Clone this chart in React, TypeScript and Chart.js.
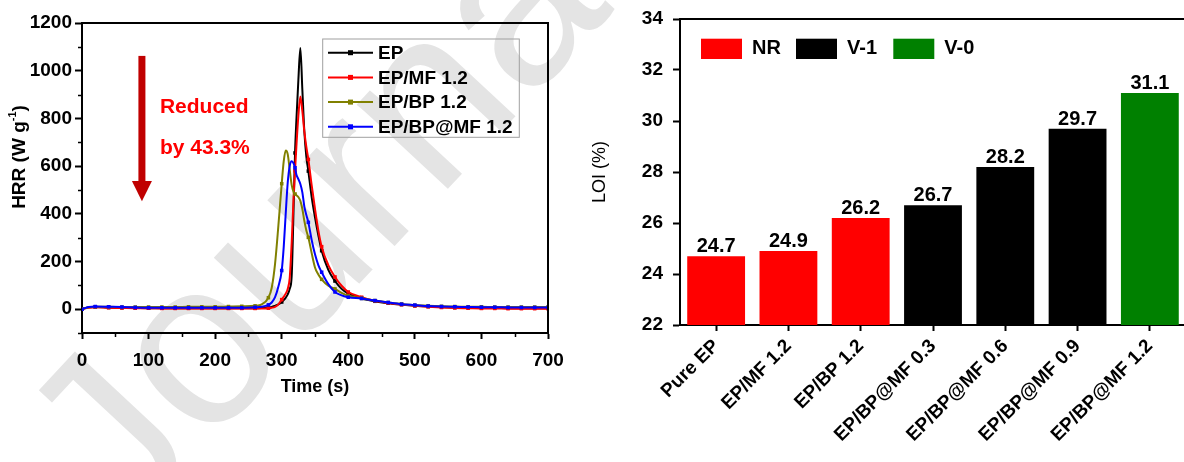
import React, { useEffect, useRef } from 'react';
import { Chart, registerables } from 'chart.js';

Chart.register(...registerables);

const FONT = '"Liberation Sans", Arial, Helvetica, sans-serif';

// ---------- HRR (left panel) ----------
const timeS = [0, 10, 20, 40, 60, 80, 100, 120, 140, 160, 180, 200, 220, 240, 260, 270, 280, 285, 290, 295, 300, 303, 306, 309, 312, 315, 318, 320, 322, 325, 328, 331, 334, 337, 340, 345, 350, 355, 360, 370, 380, 390, 400, 420, 440, 460, 480, 500, 520, 540, 560, 580, 600, 620, 640, 660, 680, 700];
const hrrEP = [0, 8, 9, 7, 6, 5, 4, 4, 4, 4, 4, 4, 4, 4, 4, 5, 7, 9, 14, 20, 30, 38, 48, 62, 85, 140, 440, 655, 790, 960, 1095, 920, 745, 640, 579, 470, 385, 310, 245, 165, 118, 85, 65, 45, 33, 25, 19, 14, 11, 9, 7, 6, 5, 5, 4, 4, 4, 4];
const hrrEPMF = [0, 6, 8, 6, 5, 4, 4, 3, 3, 3, 3, 3, 3, 3, 3, 3, 4, 6, 10, 20, 40, 52, 65, 85, 130, 280, 480, 580, 680, 810, 892, 830, 745, 680, 628, 520, 420, 330, 262, 185, 135, 98, 72, 50, 35, 26, 19, 14, 10, 7, 5, 4, 3, 3, 2, 2, 2, 2];
const hrrEPBP = [0, 8, 10, 10, 9, 9, 9, 9, 9, 10, 10, 10, 11, 12, 14, 20, 48, 90, 190, 350, 526, 620, 665, 650, 585, 520, 490, 483, 478, 470, 454, 420, 370, 330, 301, 235, 175, 145, 125, 98, 85, 68, 56, 46, 36, 28, 22, 17, 14, 12, 11, 10, 10, 9, 9, 9, 9, 9];
const hrrEPBPMF = [0, 9, 11, 10, 9, 7, 6, 6, 6, 6, 6, 6, 6, 6, 8, 10, 18, 28, 50, 95, 162, 260, 400, 530, 600, 620, 610, 593, 565, 545, 525, 490, 430, 395, 364, 290, 230, 185, 155, 105, 72, 58, 50, 45, 36, 28, 21, 17, 13, 11, 10, 9, 8, 8, 7, 7, 7, 7];
const hrrNames = ['EP', 'EP/MF 1.2', 'EP/BP 1.2', 'EP/BP@MF 1.2'];
const hrrColors = ['#000000', '#ff0000', '#808000', '#0000ff'];
const hrrXTicks = [0, 100, 200, 300, 400, 500, 600, 700];
const hrrYTicks = [0, 200, 400, 600, 800, 1000, 1200];
const hrrXMinor = [50, 150, 250, 350, 450, 550, 650];
const hrrYMinor = [-100, 100, 300, 500, 700, 900, 1100];

// ---------- LOI (right panel) ----------
const loiCategories = ['Pure EP', 'EP/MF 1.2', 'EP/BP 1.2', 'EP/BP@MF 0.3', 'EP/BP@MF 0.6', 'EP/BP@MF 0.9', 'EP/BP@MF 1.2'];
const loiValues = [24.7, 24.9, 26.2, 26.7, 28.2, 29.7, 31.1];
const loiRatings = ['NR', 'NR', 'NR', 'V-1', 'V-1', 'V-1', 'V-0'];
const ratingNames = ['NR', 'V-1', 'V-0'];
const ratingColors = ['#ff0000', '#000000', '#008000'];
const loiYTicks = [22, 24, 26, 28, 30, 32, 34];

const bold = (size: number) => ({ family: FONT, size, weight: 'bold' as const });
const plain = (v: any) => String(v);
const noPad = (s: any) => {
  s.paddingLeft = 0;
  s.paddingRight = 0;
  s.paddingTop = 0;
  s.paddingBottom = 0;
};

const hrrDecor = {
  id: 'hrrDecor',
  afterDraw(chart: any) {
    const { ctx, chartArea: ca, scales } = chart;
    const x = scales.x;
    const y = scales.y;
    ctx.save();
    ctx.strokeStyle = '#000';
    ctx.lineWidth = 2;
    ctx.beginPath();
    ctx.moveTo(ca.left, ca.top);
    ctx.lineTo(ca.right, ca.top);
    ctx.lineTo(ca.right, ca.bottom);
    ctx.stroke();
    ctx.lineWidth = 1.5;
    ctx.beginPath();
    hrrYMinor.forEach((v) => {
      const py = Math.round(y.getPixelForValue(v)) + 0.5;
      ctx.moveTo(ca.left - 4, py);
      ctx.lineTo(ca.left, py);
    });
    hrrXMinor.forEach((v) => {
      const px = Math.round(x.getPixelForValue(v)) + 0.5;
      ctx.moveTo(px, ca.bottom);
      ctx.lineTo(px, ca.bottom + 4);
    });
    ctx.stroke();

    // legend
    const bx = ca.left + 240.7;
    const by = ca.top + 16;
    ctx.strokeStyle = '#a0a0a0';
    ctx.lineWidth = 1;
    ctx.strokeRect(bx, by, 196.6, 98.3);
    ctx.font = `bold 19px ${FONT}`;
    ctx.textBaseline = 'middle';
    ctx.textAlign = 'left';
    hrrNames.forEach((name, i) => {
      const cy = by + 13.7 + i * 24.7;
      ctx.strokeStyle = hrrColors[i];
      ctx.lineWidth = 2;
      ctx.beginPath();
      ctx.moveTo(bx + 5.3, cy);
      ctx.lineTo(bx + 50.3, cy);
      ctx.stroke();
      ctx.fillStyle = hrrColors[i];
      ctx.fillRect(bx + 27.8 - 2.5, cy - 2.5, 5, 5);
      ctx.fillStyle = '#000';
      ctx.fillText(name, bx + 55.3, cy + 1);
    });

    // arrow annotation
    const ax = x.getPixelForValue(90);
    const aTop = y.getPixelForValue(1062);
    const aBase = y.getPixelForValue(537);
    const aTip = y.getPixelForValue(453);
    ctx.fillStyle = '#c00000';
    ctx.fillRect(ax - 3.5, aTop, 7, aBase - aTop);
    ctx.beginPath();
    ctx.moveTo(ax - 10, aBase);
    ctx.lineTo(ax + 10, aBase);
    ctx.lineTo(ax, aTip);
    ctx.closePath();
    ctx.fill();
    ctx.fillStyle = '#ff0000';
    ctx.font = `bold 21px ${FONT}`;
    ctx.textAlign = 'left';
    ctx.textBaseline = 'middle';
    ctx.fillText('Reduced', x.getPixelForValue(117), y.getPixelForValue(848));
    ctx.fillText('by 43.3%', x.getPixelForValue(117), y.getPixelForValue(676));

    // y title with superscript
    ctx.translate(20, 157);
    ctx.rotate(-Math.PI / 2);
    ctx.fillStyle = '#000';
    ctx.textBaseline = 'middle';
    const f1 = `bold 19px ${FONT}`;
    const f2 = `bold 11px ${FONT}`;
    ctx.font = f1;
    const w1 = ctx.measureText('HRR (W g').width;
    const w3 = ctx.measureText(')').width;
    ctx.font = f2;
    const w2 = ctx.measureText('-1').width;
    let sx = -(w1 + w2 + w3) / 2;
    ctx.font = f1;
    ctx.fillText('HRR (W g', sx, 0);
    sx += w1;
    ctx.font = f2;
    ctx.fillText('-1', sx, -7);
    sx += w2;
    ctx.font = f1;
    ctx.fillText(')', sx, 0);
    ctx.restore();
  },
};

const loiDecor = {
  id: 'loiDecor',
  afterDraw(chart: any) {
    const { ctx, chartArea: ca } = chart;
    ctx.save();
    ctx.strokeStyle = '#000';
    ctx.lineWidth = 2;
    ctx.beginPath();
    ctx.moveTo(ca.left, ca.top);
    ctx.lineTo(ca.right, ca.top);
    ctx.lineTo(ca.right, ca.bottom);
    ctx.stroke();

    const meta = chart.getDatasetMeta(0);
    ctx.fillStyle = '#000';
    ctx.font = `bold 20px ${FONT}`;
    ctx.textAlign = 'center';
    ctx.textBaseline = 'alphabetic';
    meta.data.forEach((bar: any, i: number) => {
      ctx.fillText(loiValues[i].toFixed(1), bar.x, bar.y - 4);
    });

    const offs = [21, 116, 213.3];
    ctx.font = `bold 20px ${FONT}`;
    ctx.textAlign = 'left';
    ctx.textBaseline = 'middle';
    ratingNames.forEach((name, i) => {
      const lx = ca.left + offs[i];
      const ly = ca.top + 19.7;
      ctx.fillStyle = ratingColors[i];
      ctx.fillRect(lx, ly, 41, 20.3);
      ctx.fillStyle = '#000';
      ctx.fillText(name, lx + 51, ly + 10);
    });
    ctx.restore();
  },
};

export default function App() {
  const bgRef = useRef<HTMLCanvasElement>(null);
  const leftRef = useRef<HTMLCanvasElement>(null);
  const rightRef = useRef<HTMLCanvasElement>(null);

  useEffect(() => {
    const bg = bgRef.current!;
    const g = bg.getContext('2d')!;
    g.clearRect(0, 0, bg.width, bg.height);
    g.save();
    g.translate(125, 535);
    g.rotate((-47 * Math.PI) / 180);
    g.font = `235px ${FONT}`;
    g.fillStyle = '#e4e4e4';
    g.fillText('Journal', 0, 0);
    g.restore();

    const series = [hrrEP, hrrEPMF, hrrEPBP, hrrEPBPMF];
    const c1 = new Chart(leftRef.current!, {
      type: 'line',
      data: {
        datasets: series.map((vals, i) => ({
          label: hrrNames[i],
          data: timeS.map((t, k) => ({ x: t, y: vals[k] })),
          borderColor: hrrColors[i],
          backgroundColor: hrrColors[i],
          borderWidth: 2,
          pointStyle: 'rect',
          pointRadius: (c: any) => (timeS[c.dataIndex] % 20 === 0 ? 2.5 : 0),
          pointHoverRadius: 0,
          pointBorderWidth: 0,
          cubicInterpolationMode: 'monotone',
          fill: false,
          order: 3 - i,
        })),
      } as any,
      options: {
        responsive: false,
        animation: false,
        devicePixelRatio: 1,
        events: [],
        layout: { padding: { left: 0, top: 23, right: 32, bottom: 0 } },
        plugins: { legend: { display: false }, tooltip: { enabled: false } },
        scales: {
          x: {
            type: 'linear',
            min: 0,
            max: 700,
            afterBuildTicks: (s: any) => {
              s.ticks = hrrXTicks.map((v) => ({ value: v }));
            },
            afterFit: (s: any) => {
              s.height = 129;
              noPad(s);
            },
            ticks: { color: '#000', font: bold(19), padding: 10, maxRotation: 0, autoSkip: false, callback: plain },
            grid: { drawOnChartArea: false, drawTicks: true, tickLength: 6, tickColor: '#000', tickWidth: 2 },
            border: { display: true, color: '#000', width: 2 },
            title: { display: true, text: 'Time (s)', color: '#000', font: bold(18), padding: { top: 0, bottom: 64 } },
          },
          y: {
            type: 'linear',
            min: -100,
            max: 1200,
            afterBuildTicks: (s: any) => {
              s.ticks = hrrYTicks.map((v) => ({ value: v }));
            },
            afterFit: (s: any) => {
              s.width = 82;
              noPad(s);
            },
            ticks: { color: '#000', font: bold(19), padding: 3, autoSkip: false, callback: plain },
            grid: { drawOnChartArea: false, drawTicks: true, tickLength: 7, tickColor: '#000', tickWidth: 2 },
            border: { display: true, color: '#000', width: 2 },
          },
        },
      } as any,
      plugins: [hrrDecor],
    });

    const c2 = new Chart(rightRef.current!, {
      type: 'bar',
      data: {
        labels: loiCategories,
        datasets: [
          {
            label: 'LOI',
            data: loiValues,
            backgroundColor: loiRatings.map((r) => ratingColors[ratingNames.indexOf(r)]),
            barPercentage: 0.8,
            categoryPercentage: 1.0,
            borderWidth: 0,
          },
        ],
      },
      options: {
        responsive: false,
        animation: false,
        devicePixelRatio: 1,
        events: [],
        layout: { padding: { left: 0, top: 19, right: 4, bottom: 0 } },
        plugins: { legend: { display: false }, tooltip: { enabled: false } },
        scales: {
          x: {
            afterFit: (s: any) => {
              s.height = 137;
              noPad(s);
            },
            ticks: { color: '#000', font: bold(19), minRotation: 45, maxRotation: 45, autoSkip: false, padding: 4 },
            grid: { drawOnChartArea: false, drawTicks: true, tickLength: 6, tickColor: '#000', tickWidth: 2, offset: false },
            border: { display: true, color: '#000', width: 2 },
          },
          y: {
            min: 22,
            max: 34,
            afterBuildTicks: (s: any) => {
              s.ticks = loiYTicks.map((v) => ({ value: v }));
            },
            afterFit: (s: any) => {
              s.width = 100;
              noPad(s);
            },
            ticks: { color: '#000', font: bold(19), padding: 10, autoSkip: false, callback: plain },
            grid: { drawOnChartArea: false, drawTicks: true, tickLength: 7, tickColor: '#000', tickWidth: 2 },
            border: { display: true, color: '#000', width: 2 },
            title: { display: true, text: 'LOI (%)', color: '#000', font: { family: FONT, size: 18, weight: 'normal' }, padding: { top: 9, bottom: 0 } },
          },
        },
      } as any,
      plugins: [loiDecor],
    });

    return () => {
      c1.destroy();
      c2.destroy();
    };
  }, []);

  return (
    <div style={{ position: 'fixed', left: 0, top: 0, width: 1184, height: 462, overflow: 'hidden', background: '#fff' }}>
      <canvas ref={bgRef} width={1184} height={462} style={{ position: 'absolute', left: 0, top: 0 }} />
      <canvas ref={leftRef} width={580} height={462} style={{ position: 'absolute', left: 0, top: 0, width: 580, height: 462 }} />
      <canvas ref={rightRef} width={610} height={462} style={{ position: 'absolute', left: 580, top: 0, width: 610, height: 462 }} />
    </div>
  );
}
